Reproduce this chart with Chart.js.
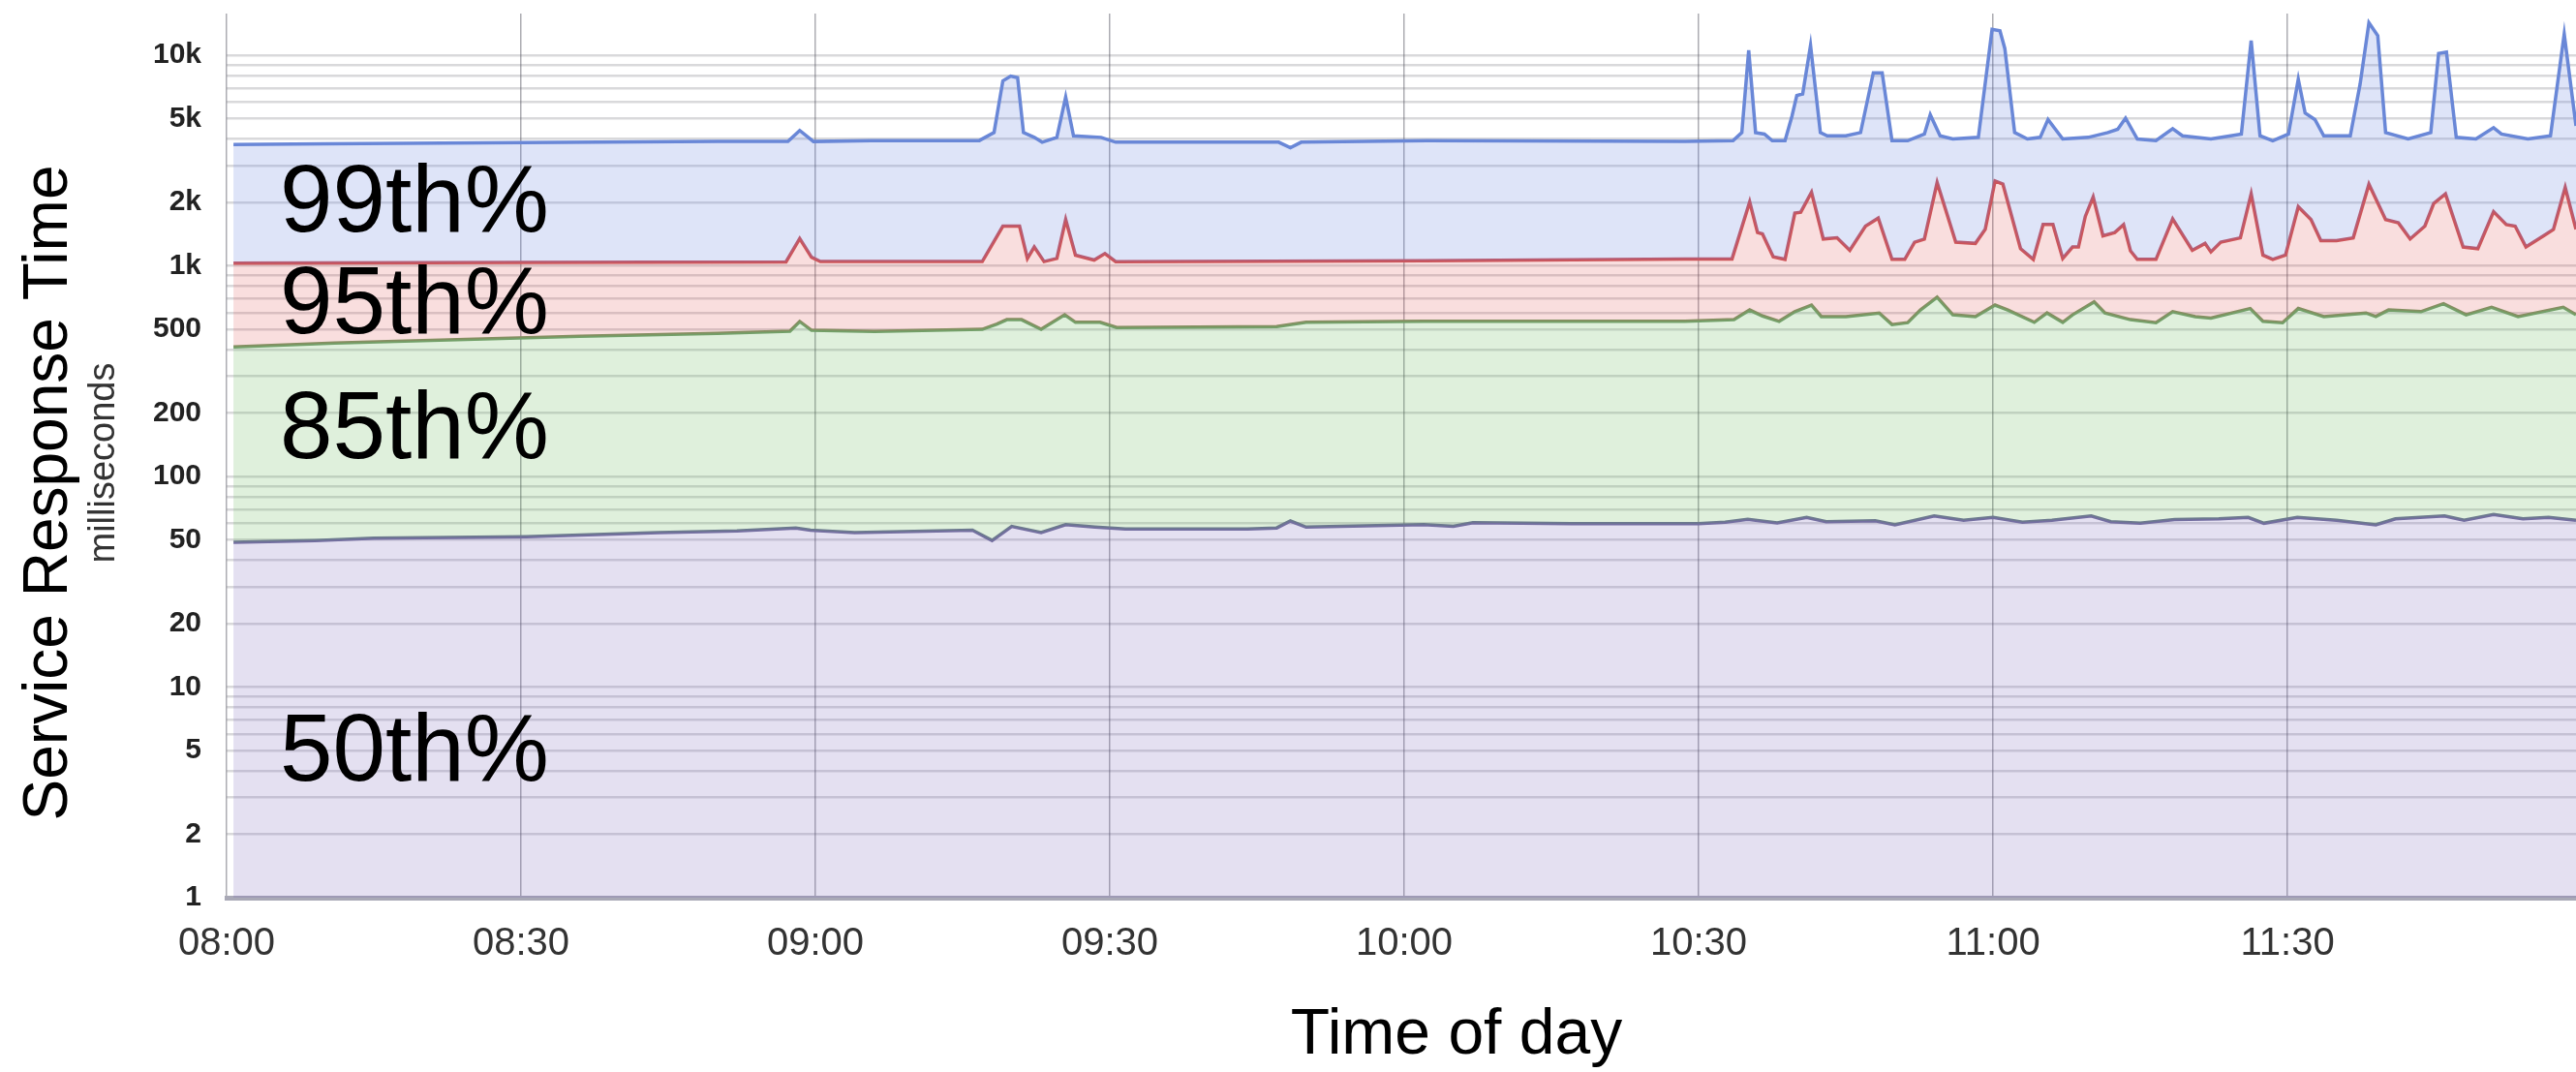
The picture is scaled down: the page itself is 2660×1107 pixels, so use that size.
<!DOCTYPE html>
<html>
<head>
<meta charset="utf-8">
<script src="https://cdn.jsdelivr.net/npm/chart.js@4.4.1/dist/chart.umd.min.js"></script>
<style>
  html, body { margin: 0; padding: 0; background: #fff; }
</style>
</head>
<body>
<canvas id="latency-chart" width="2660" height="1107"></canvas>
<script>
// x = minutes after 08:00, y = response time in ms
const timeLabels = ['08:00', '08:30', '09:00', '09:30', '10:00', '10:30', '11:00', '11:30'];
const yLabelValues = [1, 2, 5, 10, 20, 50, 100, 200, 500, 1000, 2000, 5000, 10000];
const yLabelText = ['1', '2', '5', '10', '20', '50', '100', '200', '500', '1k', '2k', '5k', '10k'];
const bandNames = ['99th%', '95th%', '85th%', '50th%'];

const p99 = [
  [0.7, 3770], [10, 3800], [30, 3850], [50, 3900], [57.2, 3900], [58.4, 4400], [59.8, 3900], [65.7, 3940],
  [76.7, 3940], [78.2, 4300], [79.1, 7570], [79.9, 7980], [80.6, 7840], [81.2, 4300], [82.3, 4080], [83.1, 3870],
  [84.6, 4080], [85.5, 6340], [86.3, 4150], [89.1, 4080], [90.6, 3870], [107.2, 3870], [108.4, 3640], [109.5, 3870],
  [122.3, 3940], [140, 3920], [148.6, 3900], [153.5, 3935], [154.4, 4300], [155.1, 10580], [155.8, 4300], [156.7, 4230],
  [157.5, 3935], [158.8, 3935], [159.5, 5130], [160, 6450], [160.6, 6560], [161.4, 11160], [162.4, 4300], [163.1, 4150],
  [165, 4150], [166.5, 4300], [167.8, 8260], [168.7, 8260], [169.7, 3935], [171.3, 3935], [173, 4230], [173.6, 5230],
  [174.6, 4150], [175.9, 4010], [178.5, 4080], [179.9, 13300], [180.7, 13100], [181.2, 10770], [182.2, 4300], [183.5, 4010],
  [184.8, 4080], [185.6, 4960], [187.1, 4010], [189.7, 4080], [191.7, 4300], [192.7, 4460], [193.5, 5040], [194.7, 4010],
  [196.6, 3935], [198.3, 4490], [199.3, 4150], [202.2, 4010], [205.3, 4230], [206.3, 11760], [207.2, 4150], [208.5, 3935],
  [210.1, 4230], [211.1, 7700], [211.8, 5320], [212.8, 4960], [213.7, 4150], [216.4, 4150], [217.4, 7300], [218.3, 14290],
  [219.2, 12400], [220, 4300], [222.3, 4010], [224.6, 4300], [225.4, 10210], [226.2, 10370], [227.2, 4080], [229.2, 4010],
  [231, 4535], [231.8, 4230], [234.5, 4010], [236.8, 4150], [238.2, 12620], [239.4, 4620]
];

const p95 = [
  [0.7, 1030], [30, 1040], [57, 1045], [58.4, 1350], [59.6, 1100], [60.5, 1050], [77, 1050],
  [79.1, 1546], [80.8, 1546], [81.6, 1086], [82.3, 1230], [83.3, 1049], [84.6, 1086], [85.5, 1660], [86.5, 1125],
  [88.4, 1067], [89.5, 1145], [90.6, 1049], [122, 1060], [148.6, 1080], [153.4, 1080], [155.2, 2015], [156, 1442],
  [156.5, 1420], [157.6, 1106], [158.8, 1075], [159.8, 1782], [160.4, 1800], [161.5, 2240], [162.7, 1343], [164.1, 1360],
  [165.4, 1187], [167, 1546], [168.3, 1689], [169.7, 1075], [171, 1075], [172, 1297], [173, 1343], [174.3, 2490],
  [176.2, 1297], [178.2, 1280], [179.2, 1492], [180.2, 2535], [181, 2450], [182.8, 1208], [184.1, 1075], [185.1, 1573],
  [186.1, 1573], [187.1, 1085], [188.1, 1230], [188.7, 1230], [189.4, 1720], [190.2, 2125], [191.2, 1391], [192.4, 1442],
  [193.3, 1573], [194, 1180], [194.7, 1075], [196.6, 1075], [198.3, 1671], [200.3, 1187], [201.6, 1280], [202.2, 1166],
  [203.2, 1297], [205.2, 1360], [206.3, 2200], [207.5, 1126], [208.5, 1075], [209.8, 1126], [211.1, 1911], [212.4, 1660],
  [213.4, 1320], [215, 1320], [216.7, 1360], [218.3, 2446], [220, 1660], [221.3, 1602], [222.5, 1343], [224, 1546],
  [224.9, 1981], [226.1, 2200], [227.9, 1230], [229.4, 1208], [231, 1812], [232.3, 1573], [233.2, 1546], [234.3, 1230],
  [236.1, 1391], [237.1, 1492], [238.3, 2362], [239.4, 1492]
];

const p85 = [
  [0.7, 413], [11, 431], [36, 464], [50, 478], [57.4, 490], [58.4, 545], [59.6, 495], [66, 489],
  [77, 500], [78.5, 530], [79.5, 556], [81, 556], [83, 500], [85.4, 586], [86.5, 540], [89, 540],
  [90.7, 510], [107, 515], [110, 540], [122, 546], [148.6, 546], [153.6, 556], [155.2, 618], [156.5, 579],
  [158.2, 546], [159.8, 607], [161.5, 652], [162.5, 575], [165, 575], [168.4, 598], [169.7, 527], [171.3, 538],
  [172.6, 618], [174.3, 711], [175.9, 586], [178.2, 575], [180.2, 652], [181.5, 618], [184.2, 540], [185.5, 598],
  [187.1, 540], [188.1, 586], [190.3, 675], [191.4, 598], [194, 556], [196.6, 538], [198.3, 607], [200.6, 575],
  [202.2, 565], [206.2, 628], [207.5, 546], [209.5, 538], [211.1, 628], [213.7, 575], [218, 598], [219, 575],
  [220.3, 618], [223.6, 607], [225.9, 662], [228.2, 586], [230.8, 637], [233.5, 575], [238.1, 637], [239.4, 586]
];

const p50 = [
  [0.7, 48.7], [9, 49.7], [15, 50.9], [30.5, 51.8], [44, 54.2], [52, 55.2], [58, 57], [59.5, 55.6],
  [64, 54.2], [76, 55.6], [78, 49.7], [80, 58], [83, 54.2], [85.5, 59.1], [88.5, 57.5], [91.6, 56.3],
  [104, 56.3], [107, 57], [108.4, 61.5], [110, 57.5], [122, 59.1], [125, 58], [127, 60.3], [137, 59.7],
  [150, 59.7], [152.7, 60.7], [155, 62.7], [158, 60.3], [161, 64], [163, 61], [168, 61.7], [170, 59],
  [174, 65], [177, 62], [180, 64], [183, 60.7], [186, 62], [190, 65], [192, 61], [195, 60],
  [198.5, 62.5], [203, 63], [206, 64], [207.6, 60], [211, 64], [215, 62], [219, 59], [221, 63],
  [226, 65], [228, 62], [231, 66], [234, 63], [236.6, 64], [239.4, 62]
];

const FONT = '"Liberation Sans", Arial, Helvetica, sans-serif';

const series = [
  { data: p99, line: 'rgb(105,135,215)', area: 'rgba(90,120,220,0.2)', fill: '+1' },
  { data: p95, line: 'rgb(205,85,90)', area: 'rgba(220,60,60,0.17)', fill: '+1' },
  { data: p85, line: 'rgb(115,160,105)', area: 'rgba(80,170,60,0.18)', fill: '+1' },
  { data: p50, line: 'rgb(115,110,160)', area: 'rgba(110,90,180,0.19)', fill: 'start' },
];

// band names, axis titles and the unit note
const annotations = {
  id: 'annotations',
  afterDraw(chart) {
    const { ctx, chartArea, scales: { y } } = chart;
    const anchors = [1940, 640, 163, 4.8];
    ctx.save();
    ctx.fillStyle = '#000';
    ctx.textBaseline = 'middle';
    ctx.textAlign = 'left';
    ctx.font = '98px ' + FONT;
    bandNames.forEach((name, i) => {
      ctx.fillText(name, chartArea.left + 55, y.getPixelForValue(anchors[i]));
    });

    ctx.textAlign = 'center';
    ctx.font = '66px ' + FONT;
    ctx.fillText('Time of day', 1504, 1070);

    ctx.save();
    ctx.translate(51, 509);
    ctx.rotate(-Math.PI / 2);
    ctx.font = '64px ' + FONT;
    ctx.fillText('Service Response Time', 0, 0);
    ctx.restore();

    ctx.save();
    ctx.translate(108, 478);
    ctx.rotate(-Math.PI / 2);
    ctx.fillStyle = '#333';
    ctx.font = '38px ' + FONT;
    ctx.fillText('milliseconds', 0, 0);
    ctx.restore();
    ctx.restore();
  }
};

new Chart(document.getElementById('latency-chart'), {
  type: 'line',
  data: {
    datasets: series.map((s, i) => ({
      label: bandNames[i],
      data: s.data.map(([x, v]) => ({ x, y: v })),
      borderColor: s.line,
      backgroundColor: s.area,
      fill: s.fill,
      borderWidth: 3.5,
      pointRadius: 0,
      tension: 0,
    }))
  },
  options: {
    responsive: false,
    animation: false,
    devicePixelRatio: 1,
    layout: { padding: { top: 14, right: 0, bottom: 0, left: 0 } },
    plugins: {
      legend: { display: false },
      tooltip: { enabled: false },
    },
    scales: {
      x: {
        type: 'linear',
        min: 0,
        max: 239.4,
        afterBuildTicks: (scale) => {
          scale.ticks = timeLabels.map((_, i) => ({ value: i * 30 }));
        },
        afterFit: (scale) => {
          scale.height = 180;
          scale.paddingLeft = 0;
          scale.paddingRight = 0;
        },
        ticks: {
          callback: (v, i) => timeLabels[i],
          autoSkip: false,
          maxRotation: 0,
          padding: 24,
          color: '#333',
          font: { family: FONT, size: 40 },
        },
        grid: { color: 'rgba(70,70,85,0.45)', lineWidth: 1.5, drawTicks: false },
        border: { display: true, color: '#a9a9b6', width: 5 },
      },
      y: {
        type: 'logarithmic',
        min: 1,
        max: 15800,
        afterBuildTicks: (scale) => {
          const ticks = [];
          for (let dec = 1; dec <= 1000; dec *= 10) {
            for (let m = 1; m <= 9; m++) ticks.push({ value: m * dec });
          }
          ticks.push({ value: 10000 });
          scale.ticks = ticks;
        },
        afterFit: (scale) => {
          scale.width = 234;
          scale.paddingTop = 0;
          scale.paddingBottom = 0;
        },
        ticks: {
          callback: (v) => {
            const k = yLabelValues.indexOf(v);
            return k >= 0 ? yLabelText[k] : '';
          },
          autoSkip: false,
          padding: 26,
          color: '#222',
          font: { family: FONT, size: 30, weight: 'bold' },
        },
        grid: { color: 'rgba(80,80,90,0.22)', lineWidth: 2.5, drawTicks: false },
        border: { display: false },
      }
    }
  },
  plugins: [annotations]
});
</script>
</body>
</html>
